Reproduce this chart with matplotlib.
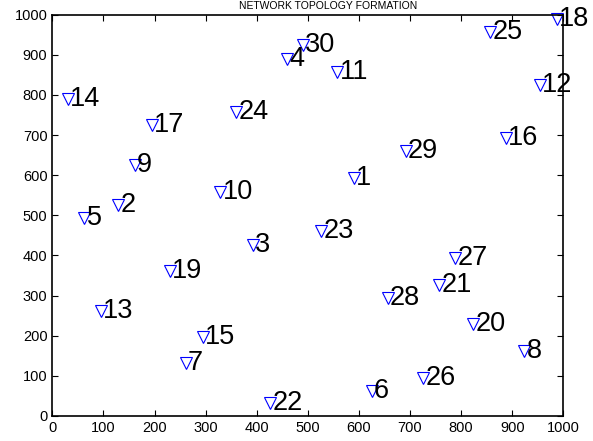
import matplotlib.pyplot as plt

plt.rcParams['font.family'] = ['Liberation Sans', 'DejaVu Sans']

# node ids and coordinates
node_ids = [1, 2, 3, 4, 5, 6, 7, 8, 9, 10,
            11, 12, 13, 14, 15, 16, 17, 18, 19, 20,
            21, 22, 23, 24, 25, 26, 27, 28, 29, 30]
node_x = [591, 129, 393, 459, 63, 625, 261, 924, 162, 329,
          558, 955, 95, 31, 294, 888, 195, 988, 230, 824,
          757, 427, 526, 360, 857, 726, 789, 657, 692, 491]
node_y = [593, 527, 427, 890, 493, 62, 131, 162, 626, 558,
          857, 826, 262, 791, 196, 693, 726, 990, 362, 229,
          327, 32, 462, 757, 957, 95, 394, 294, 660, 925]

x_ticks = list(range(0, 1001, 100))
y_ticks = list(range(0, 1001, 100))

fig = plt.figure(figsize=(5.93, 4.41), dpi=100)
ax = fig.add_axes([0.0882, 0.0567, 0.8617, 0.91])

ax.plot(node_x, node_y, linestyle='none', marker='v', markersize=8,
        markerfacecolor='none', markeredgecolor='blue', markeredgewidth=0.8,
        clip_on=False)

for n, x, y in zip(node_ids, node_x, node_y):
    ax.text(x + 4, y, str(n), fontsize=19.5, ha='left', va='center',
            color='black', clip_on=False)

ax.set_xlim(0, 1000)
ax.set_ylim(0, 1000)
ax.set_xticks(x_ticks)
ax.set_yticks(y_ticks)
ax.tick_params(direction='in', top=True, right=True, labelsize=10.5, length=4)
for s in ax.spines.values():
    s.set_linewidth(1.2)

# title squeezed into the thin strip above the axes
fig.text(328 / 593, 1 - 9 / 441, 'NETWORK TOPOLOGY FORMATION', ha='center',
         va='baseline', fontsize=7.5)

fig.savefig('out.png', dpi=100)
